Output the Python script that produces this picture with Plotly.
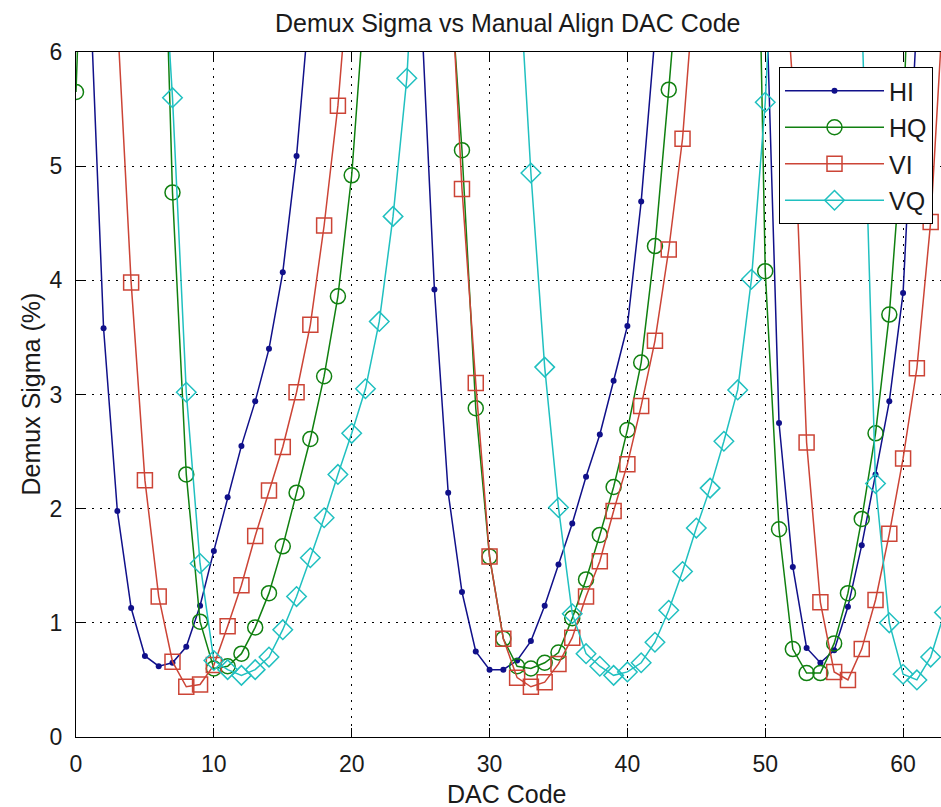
import plotly.graph_objects as go

# DAC codes swept during manual alignment
dac_code = list(range(64))

# Demux sigma (%) per channel; values above 6 run off the top of the axes
hi = [9.2, 6.6, 3.58, 1.98, 1.13, 0.71, 0.62, 0.65, 0.79, 1.15,
      1.63, 2.10, 2.55, 2.94, 3.40, 4.07, 5.09, 6.5, 8.0, 9.5,
      10.5, 11.0, 10.5, 9.0, 7.8, 6.5, 3.92, 2.14, 1.27, 0.75,
      0.59, 0.59, 0.67, 0.84, 1.15, 1.51, 1.87, 2.28, 2.65, 3.12,
      3.60, 4.69, 6.2, 7.8, 9.3, 10.5, 11.0, 10.6, 9.5, 8.2,
      6.8, 2.75, 1.49, 0.78, 0.65, 0.76, 1.14, 1.68, 2.30, 2.94,
      3.89, 6.3, 8.0, 9.5]

hq = [5.65, 10.5, 12.5, 13.5, 13.0, 11.5, 8.9, 4.77, 2.30, 1.01,
      0.60, 0.62, 0.73, 0.96, 1.26, 1.67, 2.14, 2.61, 3.16, 3.86,
      4.92, 6.7, 8.5, 10.0, 11.5, 12.0, 10.0, 6.9, 5.14, 2.88,
      1.58, 0.86, 0.62, 0.60, 0.65, 0.74, 1.04, 1.38, 1.77, 2.19,
      2.69, 3.28, 4.30, 5.67, 7.3, 9.0, 10.5, 11.5, 11.5, 10.5,
      4.08, 1.82, 0.77, 0.56, 0.56, 0.82, 1.26, 1.91, 2.66, 3.70,
      5.30, 9.0, 10.5, 11.5]

vi = [10.5, 9.5, 8.5, 6.3, 3.98, 2.25, 1.23, 0.66, 0.44, 0.46,
      0.63, 0.97, 1.33, 1.76, 2.16, 2.54, 3.02, 3.61, 4.48, 5.53,
      7.0, 8.5, 10.0, 11.0, 11.5, 11.0, 9.5, 7.2, 4.80, 3.10,
      1.58, 0.86, 0.52, 0.44, 0.48, 0.64, 0.87, 1.23, 1.54, 1.98,
      2.39, 2.90, 3.47, 4.27, 5.24, 6.8, 8.5, 10.0, 11.0, 11.0,
      10.0, 7.5, 5.70, 2.58, 1.18, 0.57, 0.50, 0.77, 1.20, 1.78,
      2.44, 3.23, 4.51, 6.6]

vq = [13.0, 14.0, 14.5, 14.0, 13.0, 11.0, 7.6, 5.60, 3.02, 1.52,
      0.67, 0.59, 0.54, 0.59, 0.70, 0.94, 1.23, 1.57, 1.92, 2.30,
      2.66, 3.05, 3.64, 4.56, 5.77, 8.0, 10.0, 12.0, 13.0, 13.0,
      12.0, 10.0, 7.0, 4.94, 3.24, 2.01, 1.08, 0.73, 0.62, 0.54,
      0.57, 0.65, 0.83, 1.11, 1.45, 1.83, 2.18, 2.59, 3.04, 4.01,
      5.56, 8.0, 10.5, 12.0, 13.0, 12.5, 10.5, 6.4, 2.22, 1.00,
      0.55, 0.50, 0.70, 1.09]

x_ticks = [0, 10, 20, 30, 40, 50, 60]
y_ticks = [0, 1, 2, 3, 4, 5, 6]

FONT = "Liberation Sans, Arial, sans-serif"
TEXT = "#1a1a1a"

series = [
    ("HI", hi, "#10108a", dict(symbol="circle", size=6, color="#10108a")),
    ("HQ", hq, "#108010", dict(symbol="circle-open", size=15,
                               line=dict(width=1.5, color="#108010"))),
    ("VI", vi, "#cc4436", dict(symbol="square-open", size=15,
                               line=dict(width=1.5, color="#cc4436"))),
    ("VQ", vq, "#20c0c0", dict(symbol="diamond-open", size=15,
                               line=dict(width=1.5, color="#20c0c0"))),
]

fig = go.Figure()
for name, vals, color, marker in series:
    fig.add_trace(go.Scatter(
        x=dac_code, y=vals, name=name, legendgroup=name,
        mode="lines+markers",
        line=dict(color=color, width=1.5),
        marker=marker,
    ))

grid = dict(showgrid=True, gridcolor="#000000", gridwidth=1,
            griddash="2px,6px", zeroline=False)

fig.update_layout(
    width=941, height=807,
    margin=dict(l=76, r=0, t=52, b=70),
    paper_bgcolor="white", plot_bgcolor="white",
    font=dict(family=FONT, color=TEXT, size=23),
    showlegend=True,
    legend=dict(
        x=(933 - 76) / 865, xanchor="right",
        y=(737 - 67) / 685, yanchor="top",
        bgcolor="white", bordercolor="black", borderwidth=1,
        font=dict(size=25, family=FONT, color=TEXT),
        tracegroupgap=1, itemwidth=99,
    ),
    xaxis=dict(range=[0, 62.75], tickvals=x_ticks,
               ticks="inside", ticklen=9, tickcolor="black",
               showline=True, linecolor="black", linewidth=1,
               mirror="ticks", ticklabelstandoff=6, **grid),
    yaxis=dict(range=[0, 6], tickvals=y_ticks,
               ticks="inside", ticklen=9, tickcolor="black",
               showline=True, linecolor="black", linewidth=1,
               mirror=False, ticklabelstandoff=8, **grid),
    annotations=[
        dict(text="Demux Sigma vs Manual Align DAC Code",
             xref="paper", yref="paper", x=0.4983, y=(737 - 23) / 685,
             xanchor="center", yanchor="middle", showarrow=False,
             font=dict(size=25, family=FONT, color=TEXT)),
        dict(text="DAC Code",
             xref="paper", yref="paper", x=0.4983, y=(737 - 794) / 685,
             xanchor="center", yanchor="middle", showarrow=False,
             font=dict(size=25, family=FONT, color=TEXT)),
        dict(text="Demux Sigma (%)", textangle=-90,
             xref="paper", yref="paper", x=(30 - 76) / 865, y=0.5,
             xanchor="center", yanchor="middle", showarrow=False,
             font=dict(size=25, family=FONT, color=TEXT)),
    ],
)

fig.write_html("out.html")
